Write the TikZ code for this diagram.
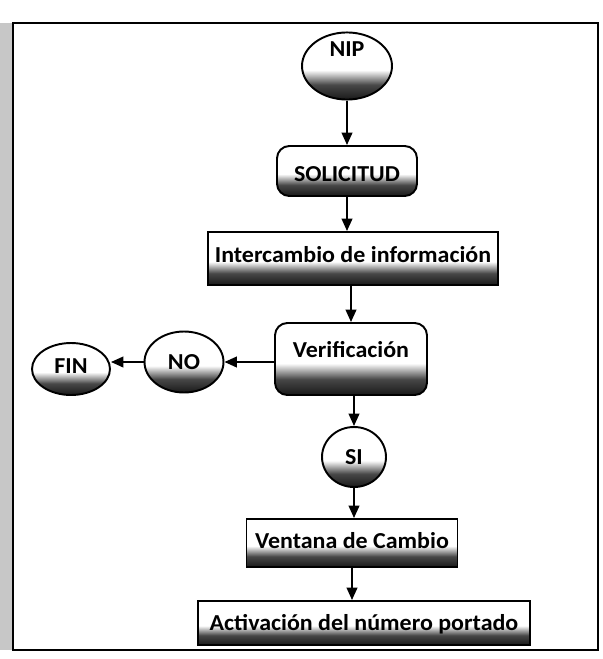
\documentclass[tikz,border=0pt]{standalone}
\usepackage{fontspec}
\setmainfont{Carlito}[FakeStretch=1.05]
\usetikzlibrary{shapes.geometric,arrows.meta}
\pgfdeclareverticalshading{scanshade}{100bp}{color(0bp)=(black!90); color(25bp)=(black!90); color(36bp)=(black!72); color(47bp)=(white); color(100bp)=(white)}
\begin{document}
\begin{tikzpicture}[x=0.02cm,y=-0.02cm,
  every node/.style={font=\fontsize{13}{15}\selectfont\bfseries, text=black, text height=8pt, text depth=0pt},
  shp/.style={draw=black, line width=1.1pt, shading=scanshade},
  boxsq/.style={shp, rectangle, inner sep=0pt},
  boxrd/.style={shp, rectangle, rounded corners=7pt, inner sep=0pt},
  ball/.style={shp, ellipse, inner sep=0pt},
  arr/.style={line width=1.1pt, -{Triangle[length=7pt,width=6pt]}},
  frame/.style={line width=1.6pt}]
\useasboundingbox (0,0) rectangle (602,659);
\fill[black!22] (0,23) rectangle (12,650);
\draw[frame] (13,23) rectangle (598,650);

\node[ball, minimum width=1.8cm, minimum height=1.32cm, text depth=19pt] (nip) at (347,66) {NIP};
\node[boxrd, minimum width=2.8cm, minimum height=1.0cm, text height=12pt] (sol) at (347,171) {SOLICITUD};
\node[boxsq, minimum width=5.8cm, minimum height=1.06cm, text depth=3pt] (int) at (353,258.5) {Intercambio de información};
\node[boxrd, minimum width=3.04cm, minimum height=1.44cm, text depth=9.8pt] (ver) at (351,359) {Verificación};
\node[ball, minimum width=1.58cm, minimum height=1.22cm] (no) at (184,362) {NO};
\node[ball, minimum width=1.56cm, minimum height=1.04cm, text depth=3pt] (fin) at (71,369) {FIN};
\node[ball, minimum width=1.28cm, minimum height=1.2cm] (si) at (354,457) {SI};
\node[boxsq, minimum width=4.22cm, minimum height=0.96cm, text depth=2pt] (ven) at (352,543) {Ventana de Cambio};
\node[boxsq, minimum width=6.64cm, minimum height=0.88cm] (act) at (364,623) {Activación del número portado};

\draw[arr] (nip.south) -- (nip.south |- sol.north);
\draw[arr] (sol.south) -- (sol.south |- int.north);
\draw[arr] (ver.north |- int.south) -- (ver.north);
\draw[arr] (ver.west |- no.east) -- (no.east);
\draw[arr] (no.west) -- (fin.east |- no.west);
\draw[arr] (si.north |- ver.south) -- (si.north);
\draw[arr] (si.south) -- (si.south |- ven.north);
\draw[arr] (ven.south) -- (ven.south |- act.north);
\end{tikzpicture}
\end{document}
